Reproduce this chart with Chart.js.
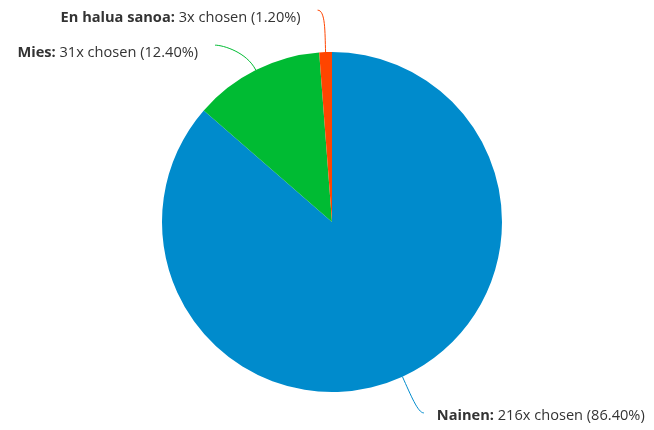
<!DOCTYPE html>
<html>
<head>
<meta charset="utf-8">
<script src="https://cdn.jsdelivr.net/npm/chart.js@4/dist/chart.umd.min.js"></script>
<style>
  html, body { margin: 0; padding: 0; background: #fff; }
  #wrap { width: 654px; height: 430px; }
</style>
</head>
<body>
<div id="wrap"><canvas id="chart"></canvas></div>
<script>
// answers and how many times each was picked
var answers = ["Nainen", "Mies", "En halua sanoa"];
var counts = [216, 31, 3];
var colors = ["#008bcc", "#00bb33", "#ff4500"];

var total = counts.reduce(function(a, b) { return a + b; }, 0);
var labelFont = '14.6px "Open Sans"';

//Labels outside the pie with curved connectors
var outsideLabels = {
  id: 'outsideLabels',
  afterDatasetsDraw: function(chart) {
    var ctx = chart.ctx;
    var arcs = chart.getDatasetMeta(0).data;
    var items = [];

    arcs.forEach(function(arc, i) {
      var mid = (arc.startAngle + arc.endAngle) / 2;
      var R = arc.outerRadius + 42;
      var cx = Math.cos(mid), cy = Math.sin(mid);
      items.push({
        i: i,
        ax: arc.x + cx * arc.outerRadius,
        ay: arc.y + cy * arc.outerRadius,
        dx: cx, dy: cy,
        y: arc.y + cy * R,
        right: cx >= 0,
        R: R, x0: arc.x, y0: arc.y
      });
    });

    //push overlapping labels apart, per side, top to bottom
    [true, false].forEach(function(side) {
      var list = items.filter(function(it) { return it.right === side; });
      list.sort(function(a, b) { return a.y - b.y; });
      for (var k = 1; k < list.length; k++) {
        if (list[k].y - list[k - 1].y < 35) list[k].y = list[k - 1].y + 35;
      }
    });

    ctx.save();
    ctx.textBaseline = 'middle';
    items.forEach(function(it) {
      var off = Math.abs(it.y - it.y0);
      var w = off < it.R ? Math.sqrt(it.R * it.R - off * off) : 0;
      var ex = it.x0 + (it.right ? w + 4 : -w);
      var ey = it.y - (it.right ? 2 : 0);
      if (!it.right && w < 12) ex = it.ax - 8;

      // connector
      ctx.strokeStyle = colors[it.i];
      ctx.lineWidth = 1;
      ctx.beginPath();
      ctx.moveTo(ex, ey);
      ctx.bezierCurveTo(ex + (it.right ? -6 : 8), ey,
        it.ax + it.dx * 20, it.ay + it.dy * 20,
        it.ax, it.ay);
      ctx.stroke();

      // text: bold name, then count and share
      var name = answers[it.i] + ': ';
      var rest = counts[it.i] + 'x chosen (' + (counts[it.i] / total * 100).toFixed(2) + '%)';
      ctx.fillStyle = '#333333';
      ctx.font = 'bold ' + labelFont;
      var nw = ctx.measureText(name).width;
      ctx.font = labelFont;
      var rw = ctx.measureText(rest).width;
      var tx = it.right ? ex + 13 : ex - 17 - nw - rw;
      var ty = ey + (it.right ? 3 : 8);
      ctx.font = 'bold ' + labelFont;
      ctx.fillText(name, tx, ty);
      ctx.font = labelFont;
      ctx.fillText(rest, tx + nw, ty);
    });
    ctx.restore();
  }
};

var ctx = document.getElementById("chart").getContext('2d');

var myChart = new Chart(ctx, {
  type: 'pie',
  data: {
    labels: answers,
    datasets: [{
      data: counts,
      backgroundColor: colors,
      borderWidth: 0
    }]
  },
  options: {
    responsive: true,
    maintainAspectRatio: false,
    animation: false,
    layout: {
      padding: { top: 52, bottom: 38, left: 10, right: 0 }
    },
    plugins: {
      legend: { display: false },
      tooltip: { enabled: false }
    }
  },
  plugins: [outsideLabels]
});
</script>
</body>
</html>
